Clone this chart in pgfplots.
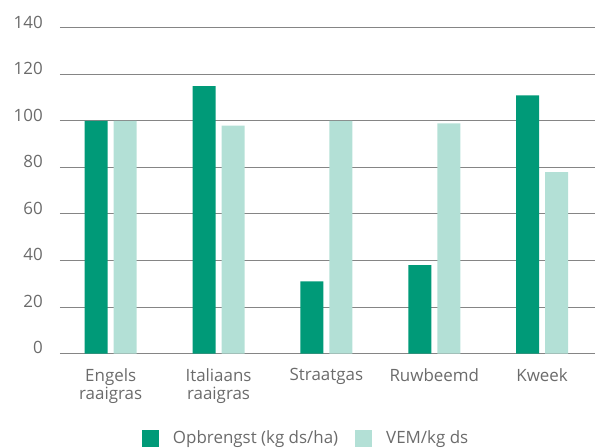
\documentclass[border=0pt]{standalone}
\usepackage{fontspec}
\setmainfont{Open Sans}
\usepackage{pgfplots}
\pgfplotsset{compat=1.18}
\definecolor{dk}{HTML}{009A78}
\definecolor{lt}{HTML}{B3E0D6}
\definecolor{txt}{HTML}{6B6B6B}
\definecolor{grd}{HTML}{858585}
\begin{document}
\begin{tikzpicture}
\useasboundingbox (-60bp,-94.5bp) rectangle (540bp,353.5bp);
\begin{axis}[
  at={(0,0)}, anchor=south west,
  scale only axis, width=535bp, height=325.5bp,
  ymin=0, ymax=140, ytick={0,20,...,140},
  xmin=-0.47, xmax=4.49, xtick={0,1,2,3,4},
  xticklabels={Engels\\raaigras, Italiaans\\raaigras, Straatgas, Ruwbeemd, Kweek},
  ybar=6bp, bar width=23bp,
  axis line style={draw=none},
  major tick length=0pt,
  ymajorgrids, grid style={grd, line width=1bp},
  /pgf/number format/assume math mode=true,
  tick label style={font=\fontsize{17}{18}\selectfont, text=txt},
  yticklabel style={inner sep=0pt, xshift=-17bp, yshift=6bp},
  xticklabel style={inner sep=0pt, align=center, yshift=-14.5bp},
  legend style={at={(0.46,-0.26)}, anchor=center, draw=none, fill=none,
    legend columns=2, font=\fontsize{17}{18}\selectfont, text=txt,
    /tikz/every even column/.append style={column sep=15bp}},
]
\addplot[fill=dk, draw=none, legend image code/.code={\fill[dk] (0bp,-8.5bp) rectangle (17bp,8.5bp); \path (29bp,0bp);}] coordinates {(0,100) (1,115) (2,31) (3,38) (4,111)};
\addplot[fill=lt, draw=none, legend image code/.code={\fill[lt] (0bp,-8.5bp) rectangle (17bp,8.5bp); \path (29bp,0bp);}] coordinates {(0,100) (1,98) (2,100) (3,99) (4,78)};
\legend{Opbrengst (kg ds/ha), VEM/kg ds}
\end{axis}
\end{tikzpicture}
\end{document}
